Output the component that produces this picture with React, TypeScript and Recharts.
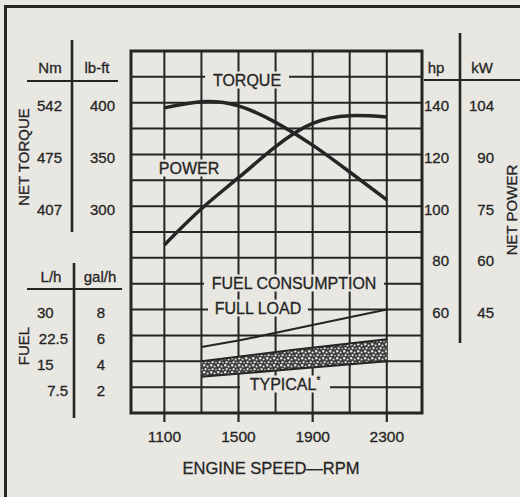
import {
  Area,
  CartesianGrid,
  ComposedChart,
  Line,
  ReferenceArea,
  XAxis,
  YAxis,
} from "recharts";

const W = 520;
const H = 497;
const BG = "#e9e7e2";
const INK = "#252525";
const FONT = '"Liberation Sans", Arial, Helvetica, sans-serif';

// engine speed (rpm)
const rpmGrid = [1100, 1300, 1500, 1700, 1900, 2100, 2300];
const rpmLabels = [1100, 1500, 1900, 2300];

// net torque
const torqueRpm = [1100, 1300, 1500, 1700, 1900, 2100, 2300];
const torqueLbFt = [395, 401, 397, 381, 359, 333, 306];
const torqueGrid = [100, 125, 150, 175, 200, 225, 250, 275, 300, 325, 350, 375, 400, 425, 450];
const torqueLbFtTicks = [400, 350, 300];
const torqueNmTicks = [542, 475, 407];

// net power
const powerRpm = [1100, 1300, 1500, 1700, 1900, 2100, 2300];
const powerHp = [85, 99, 111, 123, 132, 135, 134.5];
const powerHpTicks = [140, 120, 100, 80, 60];
const powerKwTicks = [104, 90, 75, 60, 45];

// fuel consumption
const fullLoadRpm = [1300, 1500, 1900, 2300];
const fullLoadGal = [5.1, 5.6, 6.8, 8.0];
const typicalRpm = [1300, 1800, 2300];
const typicalLowGal = [2.8, 3.4, 4.0];
const typicalHighGal = [4.0, 4.9, 5.7];
const fuelGalTicks = [8, 6, 4, 2];
const fuelLhTicks = ["30", "22.5", "15", "7.5"];

const torqueData = torqueRpm.map((rpm, i) => ({ rpm, torque: torqueLbFt[i] }));
const powerData = powerRpm.map((rpm, i) => ({ rpm, power: powerHp[i] }));
const fullLoadData = fullLoadRpm.map((rpm, i) => ({ rpm, fuel: fullLoadGal[i] }));
const typicalData = typicalRpm.map((rpm, i) => ({
  rpm,
  band: [typicalLowGal[i], typicalHighGal[i]],
}));

// scanned print looks a bit heavier than plain regular weight
const txt = {
  fontFamily: FONT,
  fontSize: 15,
  fill: INK,
  stroke: INK,
  strokeWidth: 0.3,
} as const;

const TorqueTick = (props: any) => {
  const { y, payload } = props;
  const i = torqueLbFtTicks.indexOf(payload.value);
  if (i < 0) return <g />;
  return (
    <g>
      <text x={37} y={y + 3} dominantBaseline="central" {...txt}>
        {torqueNmTicks[i]}
      </text>
      <text x={115} y={y + 3} dominantBaseline="central" textAnchor="end" {...txt}>
        {torqueLbFtTicks[i]}
      </text>
    </g>
  );
};

const FuelTick = (props: any) => {
  const { y, payload } = props;
  const i = fuelGalTicks.indexOf(payload.value);
  if (i < 0) return <g />;
  const lh = fuelLhTicks[i];
  const decimal = lh.includes(".");
  return (
    <g>
      <text
        x={decimal ? 68 : 37}
        y={y + 3}
        dominantBaseline="central"
        textAnchor={decimal ? "end" : "start"}
        {...txt}
      >
        {lh}
      </text>
      <text x={101} y={y + 3} dominantBaseline="central" textAnchor="middle" {...txt}>
        {fuelGalTicks[i]}
      </text>
    </g>
  );
};

const PowerTick = (props: any) => {
  const { y, payload } = props;
  const i = powerHpTicks.indexOf(payload.value);
  if (i < 0) return <g />;
  return (
    <g>
      <text x={449} y={y + 3} dominantBaseline="central" textAnchor="end" {...txt}>
        {powerHpTicks[i]}
      </text>
      <text x={494} y={y + 3} dominantBaseline="central" textAnchor="end" {...txt}>
        {powerKwTicks[i]}
      </text>
    </g>
  );
};

const RpmTick = (props: any) => {
  const { x, payload } = props;
  if (!rpmLabels.includes(payload.value)) return <g />;
  return (
    <g>
      <line x1={x} x2={x} y1={412} y2={422} stroke={INK} strokeWidth={2.2} />
      <text x={x} y={436} dominantBaseline="central" textAnchor="middle" {...txt} fontSize={15.5}>
        {payload.value}
      </text>
    </g>
  );
};

// label sitting on the grid with a gap cut out behind it
function GridLabel({ x, y, w, text, star }: { x: number; y: number; w: number; text: string; star?: boolean }) {
  return (
    <g>
      <rect x={x - w / 2} y={y - 8.5} width={w} height={17} fill={BG} />
      <text x={x} y={y + 0.5} dominantBaseline="central" textAnchor="middle" {...txt} fontSize={16}>
        {text}
        {star && (
          <tspan fontSize={10} dy={-5}>
            *
          </tspan>
        )}
      </text>
    </g>
  );
}

export default function App() {
  return (
    <div style={{ position: "absolute", left: 0, top: 0, width: W, height: H, background: BG }}>
      <ComposedChart
        width={W}
        height={H}
        margin={{ top: 51, right: 48, bottom: 44, left: 31 }}
      >
        <defs>
          <pattern id="stipple" width="7" height="7" patternUnits="userSpaceOnUse">
            <rect width="7" height="7" fill="#3e3e3e" />
            <circle cx="1.2" cy="1.2" r="1.2" fill="#e6e4df" />
            <circle cx="4.6" cy="2.4" r="1" fill="#e6e4df" />
            <circle cx="2.6" cy="5.2" r="1.1" fill="#e6e4df" />
            <circle cx="6" cy="5.8" r="0.8" fill="#e6e4df" />
          </pattern>
        </defs>

        <CartesianGrid yAxisId="torque" stroke={INK} strokeWidth={2} />

        <XAxis
          dataKey="rpm"
          type="number"
          domain={[920, 2490]}
          ticks={rpmGrid}
          allowDataOverflow
          axisLine={false}
          tickLine={false}
          height={40}
          tick={<RpmTick />}
        />
        <YAxis
          yAxisId="torque"
          domain={[100, 450]}
          ticks={torqueGrid}
          axisLine={false}
          tickLine={false}
          width={50}
          tick={<TorqueTick />}
        />
        <YAxis
          yAxisId="fuel"
          domain={[0, 28]}
          ticks={fuelGalTicks}
          axisLine={false}
          tickLine={false}
          width={50}
          tick={<FuelTick />}
        />
        <YAxis
          yAxisId="power"
          orientation="right"
          domain={[20, 160]}
          ticks={powerHpTicks}
          axisLine={false}
          tickLine={false}
          width={50}
          tick={<PowerTick />}
        />

        <ReferenceArea
          yAxisId="torque"
          x1={920}
          x2={2490}
          y1={100}
          y2={450}
          fill="none"
          stroke={INK}
          strokeWidth={3}
        />

        <Area
          yAxisId="fuel"
          data={typicalData}
          dataKey="band"
          type="linear"
          fill="url(#stipple)"
          fillOpacity={1}
          stroke={INK}
          strokeWidth={2}
          isAnimationActive={false}
        />
        <Line
          yAxisId="fuel"
          data={fullLoadData}
          dataKey="fuel"
          type="linear"
          stroke={INK}
          strokeWidth={2}
          dot={false}
          isAnimationActive={false}
        />
        <Line
          yAxisId="torque"
          data={torqueData}
          dataKey="torque"
          type="natural"
          stroke={INK}
          strokeWidth={3.5}
          dot={false}
          isAnimationActive={false}
        />
        <Line
          yAxisId="power"
          data={powerData}
          dataKey="power"
          type="natural"
          stroke={INK}
          strokeWidth={3.5}
          dot={false}
          isAnimationActive={false}
        />
      </ComposedChart>

      <svg
        width={W}
        height={H}
        style={{ position: "absolute", left: 0, top: 0, pointerEvents: "none" }}
      >
        {/* outer frame */}
        <path d="M5.5 497 L5.5 6.5 L520 6.5" fill="none" stroke={INK} strokeWidth={3} />

        {/* torque panel */}
        <line x1={72} x2={72} y1={40} y2={232} stroke={INK} strokeWidth={2.6} />
        <line x1={27} x2={118} y1={81} y2={81} stroke={INK} strokeWidth={2.2} />
        <text x={50} y={67} dominantBaseline="central" textAnchor="middle" {...txt}>Nm</text>
        <text x={97} y={67} dominantBaseline="central" textAnchor="middle" {...txt}>lb-ft</text>
        <text
          x={23}
          y={157}
          dominantBaseline="central"
          textAnchor="middle"
          transform="rotate(-90 23 157)"
          {...txt}
        >
          NET TORQUE
        </text>

        {/* fuel panel */}
        <line x1={74} x2={74} y1={263} y2={418} stroke={INK} strokeWidth={2.6} />
        <line x1={27} x2={122} y1={289} y2={289} stroke={INK} strokeWidth={2.2} />
        <text x={51} y={276} dominantBaseline="central" textAnchor="middle" {...txt}>L/h</text>
        <text x={100} y={276} dominantBaseline="central" textAnchor="middle" {...txt}>gal/h</text>
        <text
          x={23}
          y={346}
          dominantBaseline="central"
          textAnchor="middle"
          transform="rotate(-90 23 346)"
          {...txt}
        >
          FUEL
        </text>

        {/* power panel */}
        <line x1={460} x2={460} y1={33} y2={343} stroke={INK} strokeWidth={2.6} />
        <line x1={424} x2={520} y1={80} y2={80} stroke={INK} strokeWidth={2.2} />
        <text x={436} y={67} dominantBaseline="central" textAnchor="middle" {...txt}>hp</text>
        <text x={482} y={67} dominantBaseline="central" textAnchor="middle" {...txt}>kW</text>
        <text
          x={511}
          y={210}
          dominantBaseline="central"
          textAnchor="middle"
          transform="rotate(-90 511 210)"
          {...txt}
        >
          NET POWER
        </text>

        <text x={271} y={468} dominantBaseline="central" textAnchor="middle" {...txt} fontSize={16.5}>
          ENGINE SPEED—RPM
        </text>

        <GridLabel x={247} y={80} w={84} text="TORQUE" />
        <GridLabel x={189} y={168} w={64} text="POWER" />
        <GridLabel x={294} y={283} w={180} text="FUEL CONSUMPTION" />
        <GridLabel x={258} y={308} w={100} text="FULL LOAD" />
        <GridLabel x={285} y={384} w={90} text="TYPICAL" star />
      </svg>
    </div>
  );
}
